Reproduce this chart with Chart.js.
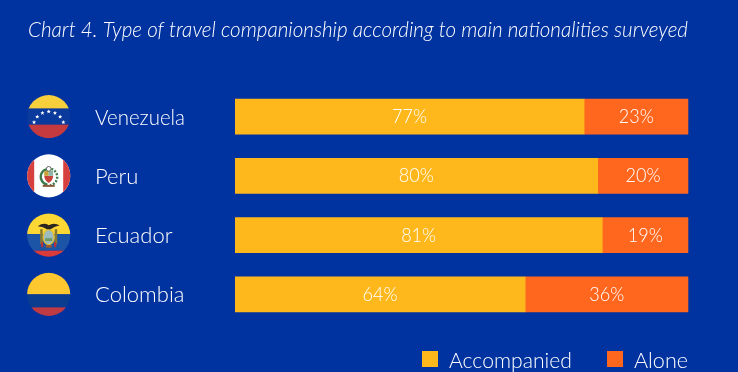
<!DOCTYPE html>
<html>
<head>
<meta charset="utf-8">
<style>
  html, body { margin: 0; padding: 0; background: #0033a0; }
  #wrap { width: 738px; height: 372px; }
</style>
<script src="https://cdn.jsdelivr.net/npm/chart.js@4"></script>
</head>
<body>
<div id="wrap"><canvas id="myChart" width="738" height="372"></canvas></div>
<script>
const countries = ['Venezuela', 'Peru', 'Ecuador', 'Colombia'];
const accompanied = [77, 80, 81, 64];
const alone = [23, 20, 19, 36];
const titleText = 'Chart 4. Type of travel companionship according to main nationalities surveyed';

const YELLOW = '#ffb81c';
const ORANGE = '#ff671f';
const FONT = 'Lato, "Open Sans", sans-serif';

function star(ctx, x, y, r) {
  ctx.beginPath();
  for (let i = 0; i < 10; i++) {
    const a = -Math.PI / 2 + i * Math.PI / 5;
    const d = i % 2 ? r * 0.45 : r;
    ctx.lineTo(x + Math.cos(a) * d, y + Math.sin(a) * d);
  }
  ctx.closePath();
  ctx.fill();
}

function rect(ctx, color, x, y, w, h) {
  ctx.fillStyle = color;
  ctx.fillRect(x, y, w, h);
}

// small flag drawings, all relative to the circle centre
const flags = {
  Venezuela(ctx, cx, cy) {
    rect(ctx, '#f7ce3c', cx - 22, cy - 22, 44, 14);
    rect(ctx, '#0a3a9c', cx - 22, cy - 8, 44, 16);
    rect(ctx, '#c53a3f', cx - 22, cy + 8, 44, 14);
    ctx.fillStyle = '#fff';
    for (let i = -3; i <= 3; i++) {
      const a = -Math.PI / 2 + i * 24 * Math.PI / 180;
      star(ctx, cx + Math.cos(a) * 15.4, cy + 10.4 + Math.sin(a) * 15.4, 2.2);
    }
  },
  Peru(ctx, cx, cy) {
    rect(ctx, '#fff', cx - 22, cy - 22, 44, 44);
    rect(ctx, '#d6403f', cx - 22, cy - 22, 7.5, 44);
    rect(ctx, '#d6403f', cx + 14.5, cy - 22, 7.5, 44);
    // wreath
    ctx.strokeStyle = '#3c7a4a';
    ctx.lineWidth = 2.4;
    ctx.beginPath();
    ctx.arc(cx, cy + 1, 8, 0.55 * Math.PI, 1.4 * Math.PI);
    ctx.stroke();
    ctx.setLineDash([2, 1.5]);
    ctx.beginPath();
    ctx.arc(cx, cy + 1, 8.5, -0.4 * Math.PI, 0.45 * Math.PI);
    ctx.stroke();
    ctx.setLineDash([]);
    // shield
    rect(ctx, '#c9a23a', cx - 4.5, cy - 5, 4.5, 5);
    rect(ctx, '#8fb4a8', cx, cy - 5, 4.5, 5);
    ctx.fillStyle = '#c8443a';
    ctx.beginPath();
    ctx.moveTo(cx - 4.5, cy);
    ctx.lineTo(cx + 4.5, cy);
    ctx.quadraticCurveTo(cx + 4, cy + 5, cx, cy + 7);
    ctx.quadraticCurveTo(cx - 4, cy + 5, cx - 4.5, cy);
    ctx.fill();
    rect(ctx, '#8c5a3a', cx - 6, cy + 9, 12, 2);
    ctx.strokeStyle = '#5f6a5a';
    ctx.lineWidth = 1;
    ctx.beginPath();
    ctx.arc(cx, cy - 7, 2.4, 0, 2 * Math.PI);
    ctx.stroke();
  },
  Ecuador(ctx, cx, cy) {
    rect(ctx, '#fdd835', cx - 22, cy - 22, 44, 21);
    rect(ctx, '#1c55a5', cx - 22, cy - 1, 44, 16.5);
    rect(ctx, '#d93a3a', cx - 22, cy + 15.5, 44, 6.5);
    // flags either side of the shield
    rect(ctx, '#8a7a30', cx - 8.5, cy - 6, 2.5, 15);
    rect(ctx, '#8a7a30', cx + 6, cy - 6, 2.5, 15);
    rect(ctx, '#c62f2f', cx - 7.5, cy + 7, 2, 5);
    rect(ctx, '#c62f2f', cx + 5.5, cy + 7, 2, 5);
    // shield
    ctx.fillStyle = '#9dbcc0';
    ctx.strokeStyle = '#e2c030';
    ctx.lineWidth = 1.4;
    ctx.beginPath();
    ctx.ellipse(cx, cy + 2, 5.5, 7.5, 0, 0, 2 * Math.PI);
    ctx.fill();
    ctx.stroke();
    rect(ctx, '#6f9a68', cx - 3.5, cy + 3, 7, 3);
    rect(ctx, '#a05a2a', cx - 3, cy + 10, 6, 2.5);
    // condor wings and body
    ctx.fillStyle = '#2b2620';
    ctx.beginPath();
    ctx.moveTo(cx - 11, cy - 9);
    ctx.quadraticCurveTo(cx - 5, cy - 13, cx, cy - 10);
    ctx.quadraticCurveTo(cx + 5, cy - 13, cx + 11, cy - 10);
    ctx.quadraticCurveTo(cx + 5, cy - 8.5, cx + 2, cy - 6);
    ctx.lineTo(cx - 2, cy - 6);
    ctx.quadraticCurveTo(cx - 5, cy - 8.5, cx - 11, cy - 9);
    ctx.fill();
  },
  Colombia(ctx, cx, cy) {
    rect(ctx, '#fdc82f', cx - 22, cy - 22, 44, 22);
    rect(ctx, '#0a3d8f', cx - 22, cy, 44, 13);
    rect(ctx, '#bf3a42', cx - 22, cy + 13, 44, 9);
  }
};

const decorations = {
  id: 'decorations',
  afterDraw(chart) {
    const ctx = chart.ctx;
    const yScale = chart.scales.y;
    ctx.save();
    ctx.textBaseline = 'middle';
    ctx.fillStyle = '#fff';

    // title
    ctx.textAlign = 'left';
    ctx.font = 'italic 300 21px ' + FONT;
    ctx.fillText(titleText, 28, 30, 660);

    countries.forEach((name, i) => {
      const y = yScale.getPixelForValue(i);

      ctx.save();
      ctx.beginPath();
      ctx.arc(48.7, y, 21.6, 0, 2 * Math.PI);
      ctx.clip();
      flags[name](ctx, 48.7, y);
      ctx.restore();

      ctx.fillStyle = '#fff';
      ctx.textAlign = 'left';
      ctx.font = '300 22px ' + FONT;
      ctx.fillText(name, 95, y + 1, 90);
    });

    // value labels centred on each segment
    ctx.textAlign = 'center';
    ctx.font = '300 20px ' + FONT;
    chart.data.datasets.forEach((ds, d) => {
      chart.getDatasetMeta(d).data.forEach((bar, i) => {
        ctx.fillText(ds.data[i] + '%', (bar.x + bar.base) / 2, bar.y, 35);
      });
    });

    // legend
    const legendY = 359;
    const items = [[422, 449], [607, 634]];
    chart.data.datasets.forEach((ds, d) => {
      ctx.fillStyle = ds.backgroundColor;
      ctx.fillRect(items[d][0], legendY - 8, 16, 16);
      ctx.fillStyle = '#fff';
      ctx.textAlign = 'left';
      ctx.font = '300 22px ' + FONT;
      ctx.fillText(ds.label, items[d][1], legendY + 2, d ? 54 : 123);
    });
    ctx.restore();
  }
};

new Chart(document.getElementById('myChart').getContext('2d'), {
  type: 'bar',
  data: {
    labels: countries,
    datasets: [
      { label: 'Accompanied', data: accompanied, backgroundColor: YELLOW, borderWidth: 0, barThickness: 35 },
      { label: 'Alone', data: alone, backgroundColor: ORANGE, borderWidth: 0, borderRadius: 1, barThickness: 35 }
    ]
  },
  options: {
    indexAxis: 'y',
    responsive: false,
    animation: false,
    layout: { padding: { left: 235, right: 49.6, top: 87, bottom: 48 } },
    plugins: { legend: { display: false }, title: { display: false }, tooltip: { enabled: false } },
    scales: {
      x: { stacked: true, min: 0, max: 100, display: false },
      y: { stacked: true, display: false }
    }
  },
  plugins: [decorations]
});
</script>
</body>
</html>
